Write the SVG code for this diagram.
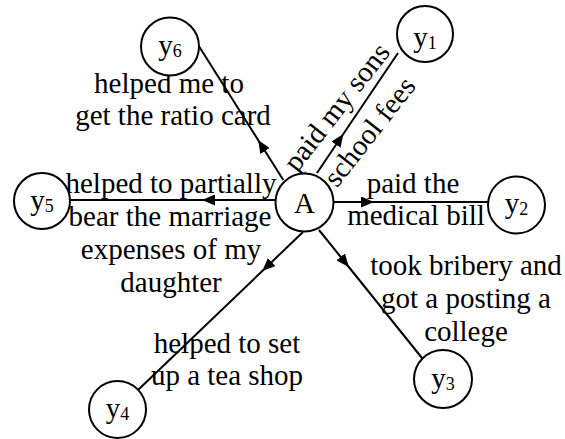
<svg xmlns="http://www.w3.org/2000/svg" width="565" height="439" viewBox="0 0 565 439">
<style>
  .node circle { fill: #fff; stroke: #000; stroke-width: 2; }
  .lbl { font-family: 'Liberation Serif', 'Times New Roman', serif; font-size: 29px; fill: #000; text-anchor: middle; }
  .sub { font-size: 18px; }
  .edge { fill: none; stroke: #000; stroke-width: 2; marker-mid: url(#ah); }
</style>
<defs>
  <marker id="ah" markerUnits="userSpaceOnUse" markerWidth="14" markerHeight="11" refX="13" refY="5.5" orient="auto" viewBox="0 0 14 11">
    <path d="M0,0 L13,5.5 L0,11 z" fill="#000"/>
  </marker>
</defs>
<rect width="565" height="439" fill="#fff"/>
<g id="connectors">
  <path class="edge" d="M283.3,180 L258.1,140 L199.3,46.7"/>
  <path class="edge" d="M317,173 L343.3,134 L398,53"/>
  <path class="edge" d="M333,202 L374,202 L488,202"/>
  <path class="edge" d="M276,200 L202,200 L70,200"/>
  <path class="edge" d="M303,232 L262.3,271 L138,390"/>
  <path class="edge" d="M319,230 L348.8,267 L422,358"/>
</g>
<g id="edge-labels">
  <text class="lbl" x="169" y="93">helped me to</text>
  <text class="lbl" x="173" y="125">get the ratio card</text>
  <text class="lbl" transform="translate(344,113) rotate(-52)">paid my sons</text>
  <text class="lbl" transform="translate(377,137.5) rotate(-52)">school fees</text>
  <text class="lbl" x="413" y="193">paid the</text>
  <text class="lbl" x="416" y="225">medical bill</text>
  <text class="lbl" x="171" y="193">helped to partially</text>
  <text class="lbl" x="170" y="226">bear the marriage</text>
  <text class="lbl" x="171" y="259">expenses of my</text>
  <text class="lbl" x="171" y="292">daughter</text>
  <text class="lbl" x="466" y="275">took bribery and</text>
  <text class="lbl" x="466" y="308">got a posting a</text>
  <text class="lbl" x="466" y="341">college</text>
  <text class="lbl" x="227" y="353">helped to set</text>
  <text class="lbl" x="227" y="385">up a tea shop</text>
</g>
<g id="A" class="node">
  <circle cx="304.5" cy="202.5" r="29"/>
  <text class="lbl" x="304.5" y="213">A</text>
</g>
<g id="y1" class="node">
  <circle cx="425" cy="34" r="28"/>
  <text class="lbl" x="425" y="47">y<tspan class="sub" dy="1.5">1</tspan></text>
</g>
<g id="y2" class="node">
  <circle cx="516.5" cy="205" r="28.5"/>
  <text class="lbl" x="516.5" y="213">y<tspan class="sub" dy="1.5">2</tspan></text>
</g>
<g id="y3" class="node">
  <circle cx="443" cy="379" r="29"/>
  <text class="lbl" x="443" y="388">y<tspan class="sub" dy="1.5">3</tspan></text>
</g>
<g id="y4" class="node">
  <circle cx="117.5" cy="409.5" r="28.5"/>
  <text class="lbl" x="117.5" y="418">y<tspan class="sub" dy="1.5">4</tspan></text>
</g>
<g id="y5" class="node">
  <circle cx="42" cy="201" r="28"/>
  <text class="lbl" x="42" y="210">y<tspan class="sub" dy="1.5">5</tspan></text>
</g>
<g id="y6" class="node">
  <circle cx="170" cy="46.5" r="29"/>
  <text class="lbl" x="170" y="55">y<tspan class="sub" dy="1.5">6</tspan></text>
</g>
</svg>
